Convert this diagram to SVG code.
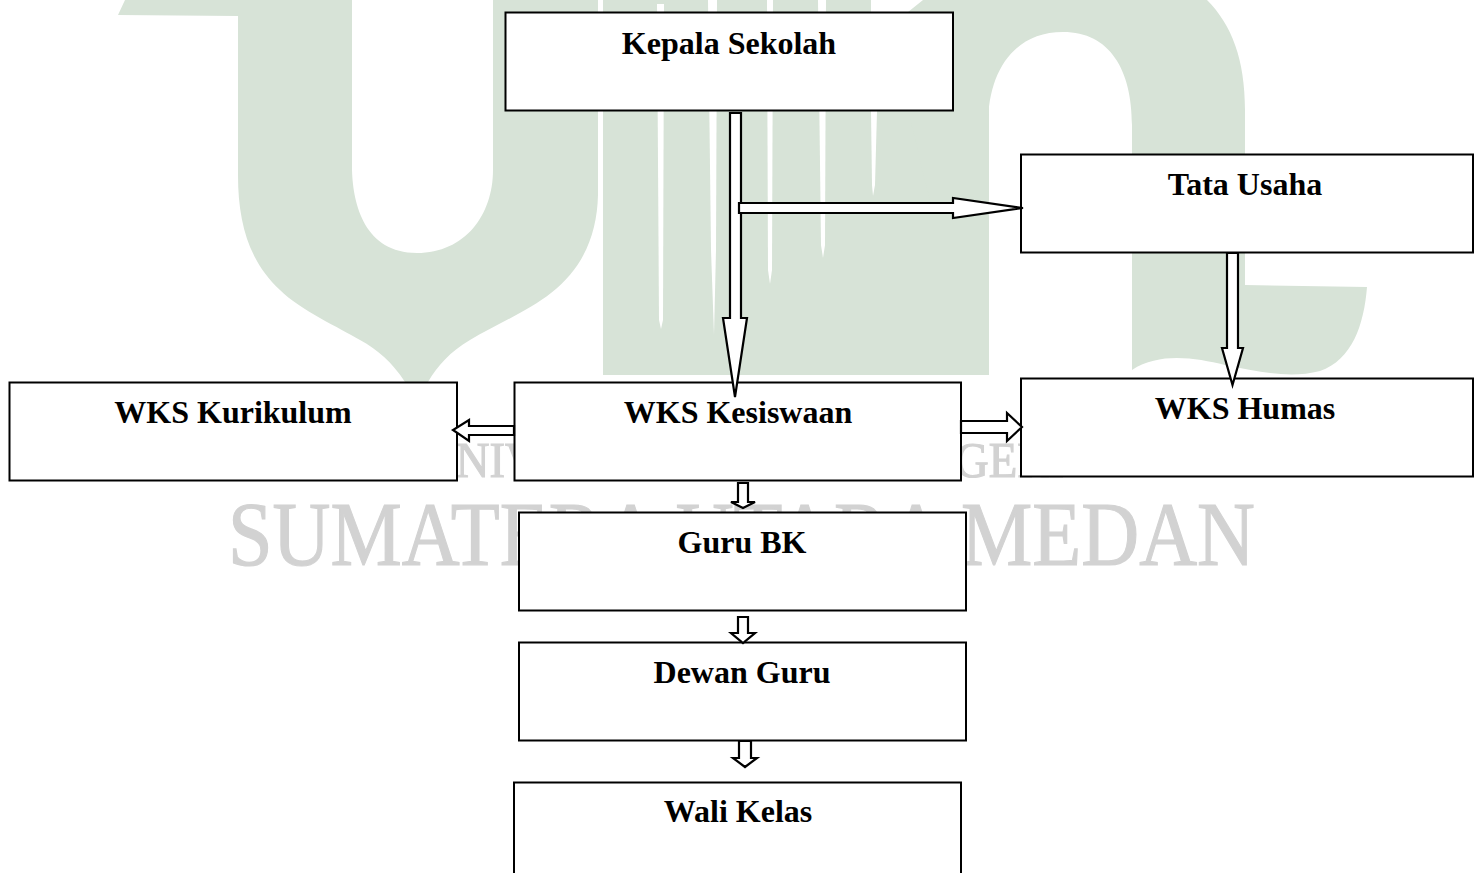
<svg xmlns="http://www.w3.org/2000/svg" width="1475" height="873" viewBox="0 0 1475 873">
  <style>
    .wm { fill: #d7e3d7; stroke: none; }
    .slit { fill: #ffffff; stroke: none; }
    .wt { fill: #d2d2d2; stroke: #d2d2d2; stroke-width: 1.2; font-family: "Liberation Serif", "Times New Roman", serif; }
    .box { fill: #ffffff; stroke: #000000; stroke-width: 2; }
    .label { fill: #000000; font-family: "Liberation Serif", "Times New Roman", serif; font-size: 32px; font-weight: bold; text-anchor: middle; }
    .arrow { fill: #ffffff; stroke: #000000; stroke-width: 2.2; stroke-linejoin: miter; }
  </style>
  <rect width="1475" height="873" fill="#ffffff"/>
  <g id="watermark">
    <path class="wm" d="M125 0 L352 0 L352 170 C353 205 365 253 417 253 C465 253 493 215 493 170 L493 0 L598 0 L598 195 C597 235 583 268 551 293 C530 310 495 325 470 340 C450 352 438 365 428 382 L405 382 C392 362 378 350 360 340 C340 328 300 310 280 290 C250 262 238 225 238 175 L238 16 L118 15 Z"/>
    <rect class="wm" x="603" y="0" width="268" height="375"/>
    <rect class="wm" x="871" y="12" width="118" height="363"/>
    <path class="wm" d="M908 12 L923 0 L1207 0 C1232 25 1245 60 1245 110 L1245 285 L1367 287 C1364 325 1352 360 1320 371 C1290 379 1260 372 1225 365 C1195 358 1160 352 1132 370 L1132 125 C1132 70 1110 32 1063 32 C1015 32 988 70 988 125 L988 200 L930 200 L908 111 Z"/>
    <polygon class="slit" points="657,4 664,4 663,320 661,329 659,320"/>
    <polygon class="slit" points="708,0 717,0 716,250 714,335 711,250"/>
    <polygon class="slit" points="767,0 773,0 772,270 770,284 768,270"/>
    <polygon class="slit" points="818,0 826,0 825,245 823,258 821,245"/>
    <polygon class="slit" points="871,111 877,111 875,185 873,196 872,185"/>
    <text class="wt" x="422" y="477" font-size="50" textLength="642" lengthAdjust="spacingAndGlyphs">UNIVERSITAS ISLAM NEGERI</text>
    <text class="wt" x="228" y="565" font-size="91" textLength="1027" lengthAdjust="spacingAndGlyphs">SUMATERA UTARA MEDAN</text>
  </g>
  <g id="node-kepala-sekolah">
    <rect class="box" x="505.500" y="12.500" width="447.500" height="98"/>
    <text class="label" x="729" y="54">Kepala Sekolah</text>
  </g>
  <g id="node-tata-usaha">
    <rect class="box" x="1021" y="154.500" width="452" height="98"/>
    <text class="label" x="1245" y="195">Tata Usaha</text>
  </g>
  <g id="node-wks-kurikulum">
    <rect class="box" x="9.500" y="382.500" width="447.500" height="98"/>
    <text class="label" x="233" y="423">WKS Kurikulum</text>
  </g>
  <g id="node-wks-kesiswaan">
    <rect class="box" x="514.500" y="382.500" width="446.500" height="98"/>
    <text class="label" x="738" y="423">WKS Kesiswaan</text>
  </g>
  <g id="node-wks-humas">
    <rect class="box" x="1021" y="378.500" width="452" height="98"/>
    <text class="label" x="1245" y="419">WKS Humas</text>
  </g>
  <g id="node-guru-bk">
    <rect class="box" x="519" y="512.500" width="447" height="98"/>
    <text class="label" x="742" y="553">Guru BK</text>
  </g>
  <g id="node-dewan-guru">
    <rect class="box" x="519" y="642.500" width="447" height="98"/>
    <text class="label" x="742" y="683">Dewan Guru</text>
  </g>
  <g id="node-wali-kelas">
    <rect class="box" x="514" y="782.500" width="447" height="110"/>
    <text class="label" x="738" y="822">Wali Kelas</text>
  </g>
  <g id="connectors">
    <polygon class="arrow" points="730,113 741,113 741,318 747,318 735,397 723,318 730,318"/>
    <polygon class="arrow" points="739,203 953,203 953,198 1023,208 953,218 953,213 739,213"/>
    <polygon class="arrow" points="1227,253 1238,253 1238,348 1243,348 1232.500,385 1222,348 1227,348"/>
    <polygon class="arrow" points="514,426 469,426 469,420 453,430 469,441 469,435 514,435"/>
    <polygon class="arrow" points="961,421 1007,421 1007,413 1022,427 1007,441 1007,433 961,433"/>
    <polygon class="arrow" points="738,483 748,483 748,502 755,502 743,508 731,502 738,502"/>
    <polygon class="arrow" points="738,617 748,617 748,633 755,633 743,643 731,633 738,633"/>
    <polygon class="arrow" points="739,741 751,741 751,758 757,758 745,767 733,758 739,758"/>
  </g>
</svg>
